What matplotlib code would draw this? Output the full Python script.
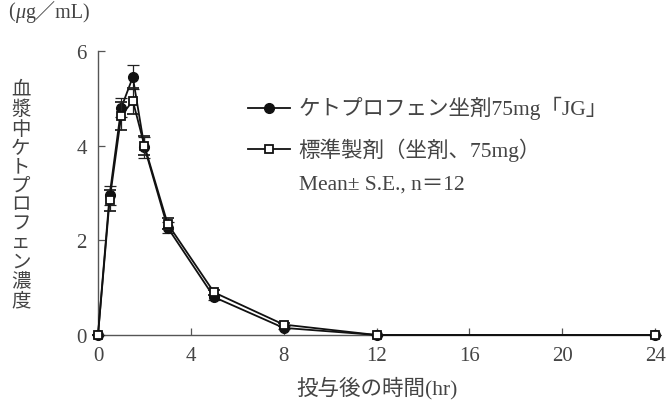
import matplotlib.pyplot as plt

plt.rcParams["font.family"] = ["Liberation Serif", "Noto Sans CJK JP", "DejaVu Sans"]

# 投与後の時間 (hr)
hours = [0, 0.5, 1, 1.5, 2, 3, 5, 8, 12, 24]

# ケトプロフェン坐剤75mg「JG」
test_mean = [0, 2.95, 4.80, 5.45, 3.97, 2.27, 0.80, 0.15, 0, 0]
test_se = [0, 0.20, 0.20, 0.26, 0.22, 0.12, 0.05, 0.03, 0, 0]

# 標準製剤（坐剤、75mg）
ref_mean = [0, 2.85, 4.63, 4.95, 4.00, 2.35, 0.90, 0.22, 0, 0]
ref_se = [0, 0.22, 0.30, 0.28, 0.20, 0.12, 0.05, 0.03, 0, 0]

x_ticks = [0, 4, 8, 12, 16, 20, 24]
y_ticks = [0, 2, 4, 6]

label_test = "ケトプロフェン坐剤75mg「JG」"
label_ref = "標準製剤（坐剤、75mg）"
note = "Mean± S.E., n＝12"
ylabel = "血漿中ケトプロフェン濃度"

axis_color = "#555555"
text_color = "#444444"

fig = plt.figure(figsize=(6.68, 4.10), dpi=100)
ax = fig.add_axes([0.1467, 0.1805, 0.834, 0.6925])

ax.errorbar(hours, test_mean, yerr=test_se, color="#111111", lw=1.3,
            marker="o", ms=7, mfc="#111111", mec="#111111",
            ecolor="#222222", elinewidth=0.9, capsize=4, capthick=0.9,
            clip_on=False, zorder=3)
ax.errorbar(hours, ref_mean, yerr=ref_se, color="#111111", lw=1.3,
            marker="s", ms=6.3, mfc="white", mec="#111111", mew=1.3,
            ecolor="#222222", elinewidth=0.9, capsize=4, capthick=0.9,
            clip_on=False, zorder=4)

ax.set_xlim(0, 24)
ax.set_ylim(0, 6)
ax.set_xticks(x_ticks)
ax.set_yticks(y_ticks)
ax.tick_params(direction="in", length=5, width=0.9, color=axis_color,
               labelsize=15, labelcolor=text_color, pad=8)
for side in ["top", "right"]:
    ax.spines[side].set_visible(False)
for side in ["left", "bottom"]:
    ax.spines[side].set_color(axis_color)
    ax.spines[side].set_linewidth(1.0)

ax.set_xlabel("投与後の時間(hr)", fontsize=15.5, color=text_color, labelpad=8)

# 縦書きの軸ラベル
fig.text(0.031, 0.522, "\n".join(ylabel), fontsize=14, color=text_color,
         ha="center", va="center", linespacing=1.15)

# 単位 (μはイタリック)
u1 = fig.text(0.012, 0.945, "(", fontsize=14.5, color=text_color,
              ha="left", va="bottom")
u2 = ax.annotate("μ", xy=(1, 0), xycoords=u1, fontsize=14.5,
                 color=text_color, style="italic", va="bottom",
                 annotation_clip=False)
ax.annotate("g／mL)", xy=(1, 0), xycoords=u2, fontsize=14.5,
            color=text_color, va="bottom", annotation_clip=False)

# 凡例
ax.plot([6.45, 8.25], [4.8, 4.8], color="#111111", lw=1.3, clip_on=False)
ax.plot([7.35], [4.8], marker="o", ms=7, color="#111111", clip_on=False)
ax.plot([6.45, 8.25], [3.92, 3.92], color="#111111", lw=1.3, clip_on=False)
ax.plot([7.35], [3.92], marker="s", ms=6.3, mfc="white", mec="#111111",
        mew=1.3, clip_on=False)
ax.text(8.65, 4.8, label_test, fontsize=15.5, color=text_color, va="center")
ax.text(8.65, 3.92, label_ref, fontsize=15.5, color=text_color, va="center")
ax.text(8.65, 3.2, note, fontsize=15.5, color=text_color, va="center")

fig.savefig("out.png", dpi=100)
